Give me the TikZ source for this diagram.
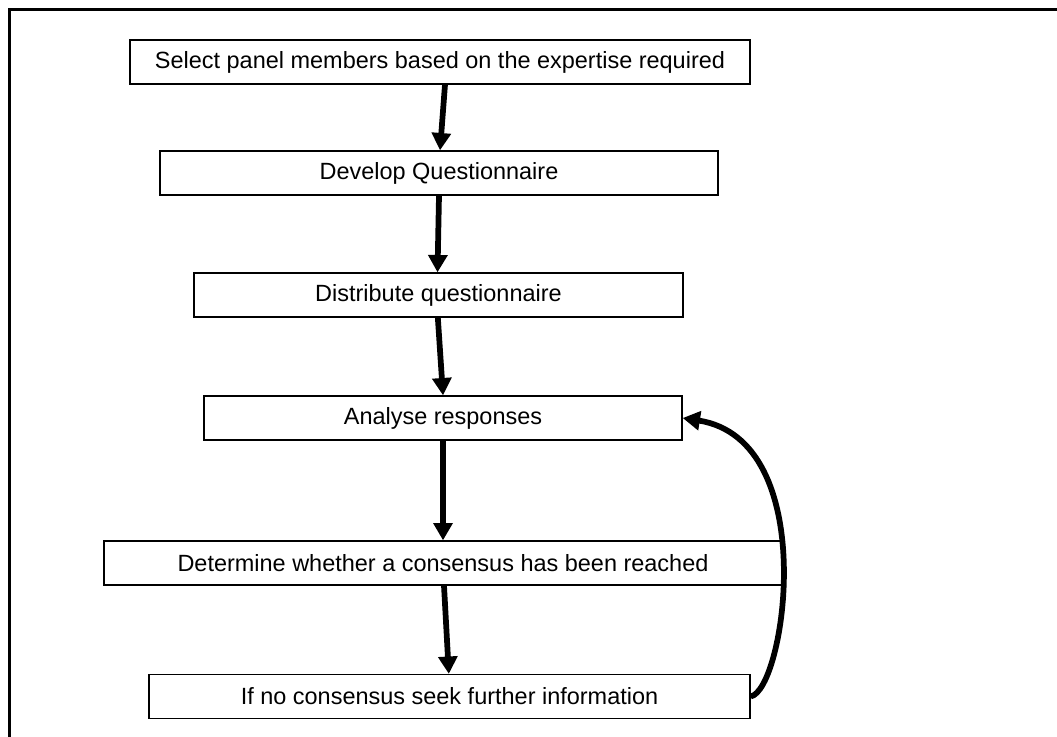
\documentclass[tikz,border=0pt]{standalone}
\usepackage{fontspec}
\setmainfont{Liberation Sans}
\usepackage{tikz}
\usetikzlibrary{arrows.meta}

\begin{document}
\begin{tikzpicture}[x=0.75pt,y=-0.75pt,
        stepbox/.style={draw,line width=1pt,minimum height=33pt,inner sep=0pt,
            font=\fontsize{17.6}{20}\selectfont},
        flow/.style={line width=4.3pt,-{Triangle[width=14pt,length=13pt]}}]
        \useasboundingbox (0,0) rectangle (1057,736);
        \draw[line width=2pt] (9.7,760) -- (9.7,9.7) -- (1080,9.7);

        \node[stepbox,minimum width=465pt] (select) at (440,62) {Select panel members based on the expertise required};
        \node[stepbox,minimum width=418.5pt] (develop) at (439,173) {Develop Questionnaire};
        \node[stepbox,minimum width=366.75pt] (distribute) at (438.5,295) {Distribute questionnaire};
        \node[stepbox,minimum width=358.5pt] (analyse) at (443,418) {Analyse responses};
        \node[stepbox,minimum width=508.5pt] (determine) at (443,563) {Determine whether a consensus has been reached};
        \node[stepbox,minimum width=450.75pt] (further) at (449.5,696.5) {If no consensus seek further information};

        \draw[flow] ([xshift=3.75pt]select.south) -- ([xshift=0.75pt]develop.north);
        \draw[flow] (develop.south) -- ([xshift=-0.75pt]distribute.north);
        \draw[flow] ([xshift=-0.5pt]distribute.south) -- (analyse.north);
        \draw[flow] (analyse.south) -- (determine.north);
        \draw[flow] ([xshift=0.75pt]determine.south) -- ([xshift=-0.5pt]further.north);

        \draw[flow] (further.east) .. controls (785,690) and (822,440) .. (analyse.east);
    \end{tikzpicture}
\end{document}
